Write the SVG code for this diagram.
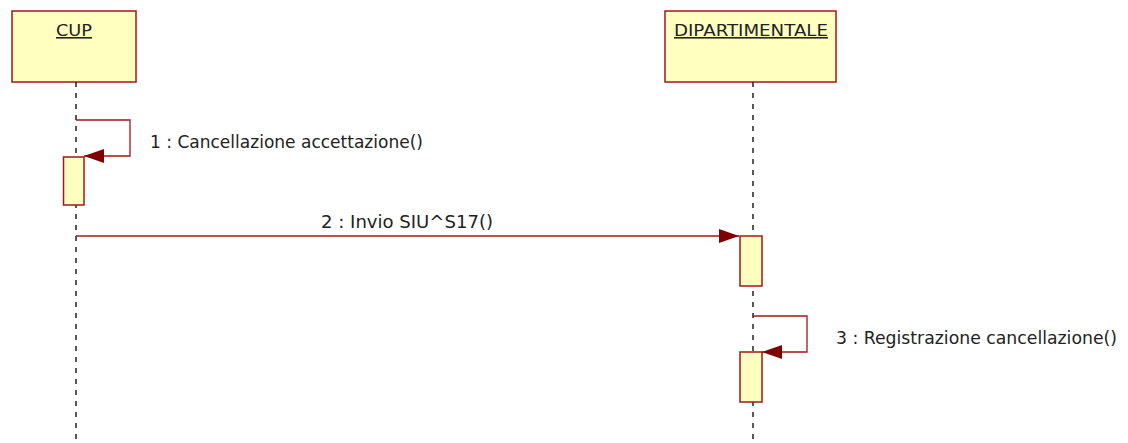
<svg xmlns="http://www.w3.org/2000/svg" width="1128" height="443" viewBox="0 0 1128 443">
<style>
.box{fill:#FFFFC0;stroke:#A01818;stroke-width:1.5}
.life{stroke:#222;stroke-width:1.5;stroke-dasharray:5,6;fill:none}
.msg{stroke:#A01818;stroke-width:1.3;fill:none}
.t{font-family:"DejaVu Sans",Verdana,sans-serif;font-size:17px;fill:#222}
.h{font-family:"DejaVu Sans",Verdana,sans-serif;font-size:16px;fill:#222;text-decoration:underline;text-anchor:middle}
</style>
<defs>
<marker id="ah" markerWidth="20" markerHeight="16" refX="20" refY="8" orient="auto" markerUnits="userSpaceOnUse">
<path d="M0,1 L20,8 L0,15 Z" fill="#800000"/>
</marker>
</defs>
<g id="cup">
<rect class="box" x="12" y="11" width="124" height="71"/>
<text class="h" x="74" y="36" textLength="36" lengthAdjust="spacingAndGlyphs">CUP</text>
<line class="life" x1="76" y1="82" x2="76" y2="443"/>
</g>
<g id="dip">
<rect class="box" x="665" y="11" width="171" height="71"/>
<text class="h" x="751" y="36" textLength="154" lengthAdjust="spacingAndGlyphs">DIPARTIMENTALE</text>
<line class="life" x1="753" y1="82" x2="753" y2="443"/>
</g>
<g id="act1"><rect class="box" x="63.5" y="157" width="20.5" height="48"/></g>
<g id="act2"><rect class="box" x="740" y="236" width="22" height="50"/></g>
<g id="act3"><rect class="box" x="740" y="352" width="22" height="50"/></g>
<g id="connectors">
<polyline class="msg" points="76,120 130,120 130,156 84,156" marker-end="url(#ah)"/>
<line class="msg" x1="76" y1="236" x2="739" y2="236" marker-end="url(#ah)"/>
<polyline class="msg" points="753,316 807,316 807,352 762,352" marker-end="url(#ah)"/>
</g>
<text class="t" x="150" y="148" textLength="273" lengthAdjust="spacingAndGlyphs">1 : Cancellazione accettazione()</text>
<text class="t" x="321" y="228" textLength="172" lengthAdjust="spacingAndGlyphs">2 : Invio SIU^S17()</text>
<text class="t" x="836" y="344" textLength="281" lengthAdjust="spacingAndGlyphs">3 : Registrazione cancellazione()</text>
</svg>
